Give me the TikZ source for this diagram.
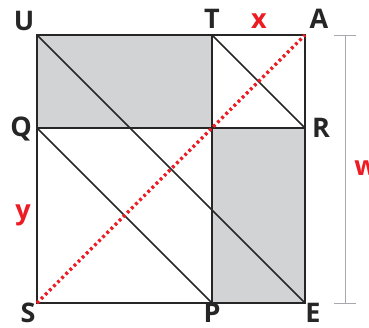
\documentclass[tikz,border=0pt]{standalone}
\usepackage{fontspec}
\setmainfont{Open Sans}
\definecolor{boxgray}{HTML}{D1D3D4}
\definecolor{myred}{HTML}{ED1C24}
\definecolor{dimgray}{HTML}{A7A9AC}
\begin{document}
\begin{tikzpicture}[x=1pt,y=-1pt,
  lbl/.style={font=\fontsize{27}{27}\selectfont\bfseries, text=black!85, inner sep=0pt},
  rlbl/.style={lbl, text=myred},
  edge/.style={line width=1.9pt, draw=black!85},
  diag/.style={line width=1.5pt, draw=black!85},
  reddot/.style={draw=myred, line width=3.2pt, dash pattern=on 2.8pt off 3pt}]
\useasboundingbox (0,0) rectangle (369,327);
\coordinate (U) at (37,35);
\coordinate (T) at (212,35);
\coordinate (A) at (305,35);
\coordinate (Q) at (37,128);
\coordinate (M) at (212,128);
\coordinate (R) at (305,128);
\coordinate (S) at (37,303);
\coordinate (P) at (212,303);
\coordinate (E) at (305,303);
\fill[boxgray] (U) rectangle (M);
\fill[boxgray] (M) rectangle (E);
\draw[edge] (U) rectangle (E);
\draw[edge] (Q) -- (R);
\draw[edge] (T) -- (P);
\draw[diag] (U) -- (E);
\draw[diag] (Q) -- (P);
\draw[diag] (T) -- (R);
\draw[reddot] (S) -- (A);
% dimension line
\coordinate (d1) at (345,35);
\coordinate (d2) at (345,303);
\draw[dimgray, line width=0.9pt] (d1) -- (d2);
\draw[dimgray, line width=0.9pt] (334,35) -- (356,35);
\draw[dimgray, line width=0.9pt] (334,303) -- (356,303);
% labels
\node[lbl] (lU) at (24,21) {U};
\node[lbl] (lT) at (212,19) {T};
\node[rlbl] (lx) at (259,21) {x};
\node[lbl] (lA) at (319,19) {A};
\node[lbl] (lQ) at (21,129) {Q};
\node[lbl] (lR) at (321,128) {R};
\node[rlbl] (lw) at (366,168) {w};
\node[rlbl] (ly) at (23,215) {y};
\node[lbl] (lS) at (28,313) {S};
\node[lbl] (lP) at (212,313) {P};
\node[lbl] (lE) at (313,313) {E};
\end{tikzpicture}
\end{document}
